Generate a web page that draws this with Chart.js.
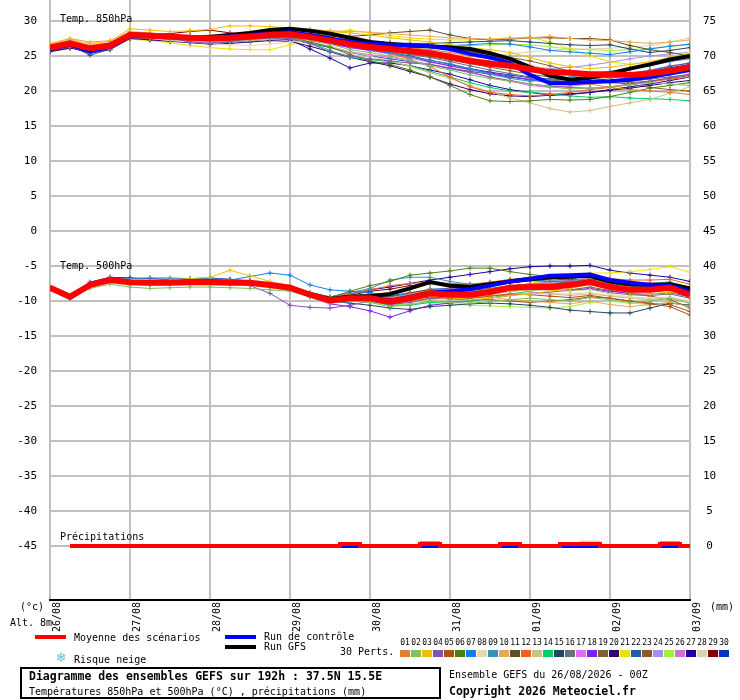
<!DOCTYPE html>
<html>
<head>
<meta charset="utf-8">
<script src="https://cdn.jsdelivr.net/npm/chart.js@4/dist/chart.umd.min.js"></script>
<style>
  html, body { margin: 0; padding: 0; background: #fff; }
  #wrap { width: 740px; height: 700px; }
</style>
</head>
<body>
<div id="wrap"><canvas id="gefs" width="740" height="700"></canvas></div>
<script>
// ------------------------------
// DATA
// ------------------------------
const hours = [0,6,12,18,24,30,36,42,48,54,60,66,72,78,84,90,96,102,108,114,120,126,132,138,144,150,156,162,168,174,180,186,192];
const precipHours = hours.slice(1);
const dayHours = [0,24,48,72,96,120,144,168,192];
const dayLabels = ['26/08','27/08','28/08','29/08','30/08','31/08','01/09','02/09','03/09'];
const leftTicks = [30,25,20,15,10,5,0,-5,-10,-15,-20,-25,-30,-35,-40,-45];
const rightTicks = [75,70,65,60,55,50,45,40,35,30,25,20,15,10,5,0];

const mean850 = [26.2,26.8,26.1,26.5,28.0,27.9,27.8,27.6,27.5,27.6,27.8,28.0,28.1,27.7,27.2,26.7,26.3,26.0,25.7,25.4,24.9,24.3,23.9,23.6,23.1,22.7,22.6,22.4,22.4,22.3,22.5,22.9,23.4];
const ctrl850 = [26.0,26.6,25.7,26.3,27.8,27.9,27.8,27.6,27.6,27.8,28.0,28.2,28.4,28.0,27.5,27.0,26.8,26.6,26.5,26.4,26.0,25.3,24.8,24.0,22.3,21.1,21.1,21.3,21.4,21.6,22.0,22.5,23.0];
const gfs850 = [26.1,26.7,26.0,26.4,28.1,28.0,27.8,27.6,27.7,28.0,28.3,28.7,28.9,28.6,28.2,27.6,27.0,26.7,26.5,26.4,26.2,26.0,25.4,24.6,23.4,22.2,21.6,21.9,22.5,23.2,23.8,24.5,25.0];

const mean500 = [-8.1,-9.4,-7.7,-7.0,-7.3,-7.4,-7.4,-7.3,-7.3,-7.4,-7.4,-7.7,-8.1,-9.1,-9.9,-9.6,-9.6,-10.1,-9.6,-8.9,-9.1,-9.1,-8.7,-8.1,-8.0,-8.0,-7.7,-7.3,-8.0,-8.4,-8.4,-8.1,-9.1];
const ctrl500 = [-8.1,-9.5,-7.7,-7.0,-7.3,-7.4,-7.3,-7.2,-7.2,-7.3,-7.4,-7.7,-8.1,-9.1,-9.9,-9.6,-9.5,-9.9,-9.4,-8.8,-8.6,-8.3,-7.8,-7.2,-6.8,-6.4,-6.3,-6.2,-7.0,-7.4,-7.7,-7.8,-8.6];
const gfs500 = [-8.1,-9.5,-7.7,-7.0,-7.3,-7.4,-7.3,-7.2,-7.2,-7.3,-7.4,-7.7,-8.1,-9.0,-9.7,-9.4,-9.3,-9.0,-8.2,-7.3,-7.8,-8.0,-7.6,-7.2,-6.9,-6.6,-6.5,-6.4,-7.2,-7.6,-7.7,-7.6,-8.2];

const precipMean = [0,0,0,0,0,0,0,0,0,0,0,0,0,0,0.3,0,0,0,0.3,0,0,0,0.3,0,0,0.3,0.3,0,0,0,0.3,0];
const precipCtrl = [0,0,0,0,0,0,0,0,0,0,0,0,0,0,0,0,0,0,0,0,0,0,0,0,0,0,0,0,0,0,0,0];
// [member number, hour, mm]
const pertRain = [[4,114,0.6],[10,138,0.5],[13,156,0.4],[13,162,0.7],[16,186,0.6]];

const pertColors = ['#e08030','#80c060','#f0c000','#8850b0','#b05010','#508010','#1080f0','#e8d8b0','#3890c0','#e8a858',
  '#605020','#f06020','#d0c080','#00d060','#204860','#687078','#e070f0','#8020f0','#806030','#300070',
  '#f0e000','#2060a0','#905828','#a090f0','#a0f040','#d070d0','#2000a0','#e0d0b0','#800000','#0038c0'];

const t850Perts = [
  [26.5,27.0,26.4,26.8,28.3,28.1,27.9,27.8,27.6,27.8,28.0,28.3,28.4,28.0,27.6,27.1,26.8,26.5,26.2,25.9,25.5,25.0,24.6,24.0,23.2,22.5,21.8,21.0,20.5,20.2,20.0,19.8,19.5],
  [26.0,26.6,25.9,26.3,28.0,27.8,27.7,27.5,27.4,27.5,27.6,27.9,28.0,27.3,26.7,25.9,25.5,25.0,24.4,23.6,23.0,22.3,21.8,21.4,21.0,20.6,20.3,20.4,20.6,20.9,21.2,21.0,20.8],
  [26.7,27.4,26.8,27.1,28.9,28.7,28.5,28.6,28.8,29.3,29.3,29.2,29.0,28.8,28.5,28.3,28.0,27.6,27.3,27.0,26.6,26.2,25.9,25.5,24.8,24.0,23.5,23.2,23.4,23.8,24.2,24.8,25.3],
  [26.2,26.9,26.0,26.5,28.1,27.9,27.6,27.0,26.8,27.1,27.4,27.6,27.5,26.8,25.6,25.0,24.6,24.3,24.0,23.8,23.2,22.7,22.0,21.5,21.0,20.7,20.5,20.4,20.6,21.0,21.4,21.9,22.4],
  [26.1,26.6,26.2,26.4,27.9,27.8,27.7,27.6,27.5,27.7,27.9,28.0,28.1,27.8,27.5,27.0,26.6,26.2,25.8,25.4,24.8,24.2,23.8,23.4,23.0,22.8,22.5,22.2,22.0,22.1,22.4,22.8,23.2],
  [26.0,26.5,25.8,26.2,27.8,27.6,27.4,27.3,27.2,27.4,27.6,27.8,27.7,27.0,26.3,25.2,24.3,23.8,23.0,22.0,20.8,19.5,18.6,18.5,18.6,18.8,18.7,18.8,19.2,19.8,20.4,20.8,21.2],
  [26.3,26.9,26.2,26.6,28.2,28.0,27.9,27.8,27.7,27.8,28.0,28.2,28.3,27.9,27.5,27.2,27.0,26.8,26.6,26.5,26.5,26.6,26.8,26.7,26.3,25.8,25.6,25.4,25.2,25.6,26.0,26.4,26.7],
  [26.6,27.2,26.6,26.9,28.0,27.5,27.2,27.0,26.8,26.6,26.5,26.7,27.0,27.2,27.3,27.2,27.0,26.6,26.3,26.0,25.5,25.1,24.8,24.3,23.8,23.0,22.4,22.0,21.7,21.5,21.8,22.3,22.8],
  [25.8,26.3,25.5,26.0,27.6,27.5,27.4,27.3,27.2,27.3,27.5,27.7,27.8,27.4,27.0,26.5,26.0,25.5,24.9,24.4,23.9,23.2,22.4,21.8,21.4,21.6,22.0,22.4,22.8,23.2,23.6,24.2,24.6],
  [26.8,27.5,27.0,27.2,28.5,28.3,28.0,27.9,28.0,28.2,28.5,28.8,28.9,28.8,28.6,28.5,28.4,28.2,28.0,27.8,27.6,27.5,27.4,27.5,27.6,27.8,27.5,27.3,27.2,27.0,26.8,27.0,27.3],
  [26.0,26.5,26.0,26.2,27.8,27.8,27.7,27.5,27.4,27.6,27.8,28.0,28.1,28.0,27.8,27.8,28.0,28.3,28.5,28.7,28.0,27.5,27.3,27.4,27.6,27.6,27.5,27.5,27.3,26.5,25.9,25.5,25.0],
  [26.4,27.0,26.3,26.7,28.2,28.0,27.9,27.8,27.7,27.8,28.0,28.2,28.2,27.8,27.3,26.8,26.3,25.5,24.5,23.5,22.0,20.6,19.8,19.5,19.3,19.5,19.8,20.2,20.5,20.9,21.3,21.7,22.0],
  [25.9,26.4,25.7,26.1,27.7,27.6,27.4,27.2,27.0,27.1,27.2,27.4,27.5,27.0,26.4,25.6,25.0,24.3,23.5,22.6,21.8,20.8,19.9,19.0,18.3,17.5,17.0,17.2,17.8,18.3,18.8,19.7,20.6],
  [26.1,26.7,26.0,26.4,28.0,27.8,27.6,27.3,27.0,27.2,27.4,27.6,27.6,26.9,25.8,24.8,24.5,24.2,23.6,22.8,22.0,21.2,20.5,20.0,19.8,19.6,19.3,19.1,19.2,19.0,18.9,18.8,18.6],
  [26.3,26.8,26.2,26.6,28.1,27.9,27.8,27.7,27.6,27.7,27.9,28.1,28.2,27.9,27.6,27.3,27.1,26.9,26.8,26.8,26.9,27.0,27.1,27.2,27.0,26.8,26.6,26.5,26.6,26.0,25.5,25.8,26.2],
  [26.2,26.8,26.1,26.5,28.0,27.9,27.8,27.6,27.5,27.6,27.8,28.0,28.0,27.5,27.0,26.5,26.0,25.6,25.2,24.8,24.2,23.6,23.0,22.5,22.0,21.6,21.3,21.2,21.2,21.4,21.7,22.0,22.4],
  [26.3,26.9,26.1,26.5,28.0,27.8,27.5,27.2,27.0,27.2,27.5,27.7,27.6,27.0,26.3,25.6,25.2,24.8,24.3,23.8,23.2,22.6,22.0,21.4,20.8,20.5,20.7,21.0,21.5,22.0,22.5,22.8,23.1],
  [26.4,27.0,26.3,26.7,28.1,27.9,27.7,27.5,27.4,27.6,27.9,28.1,28.0,27.4,26.8,26.2,25.8,25.4,24.9,24.2,23.6,23.1,22.6,22.1,21.6,21.2,21.0,21.1,21.4,21.9,22.4,22.9,23.5],
  [26.5,27.1,26.5,26.8,28.2,28.0,27.9,27.8,27.8,27.9,28.1,28.3,28.4,28.2,27.9,27.5,27.1,26.8,26.5,26.2,25.9,25.6,25.2,24.8,24.3,23.6,22.8,22.0,21.5,21.2,21.4,21.8,22.2],
  [25.7,26.2,25.4,25.9,27.5,27.3,27.1,26.9,26.7,26.8,27.0,27.2,27.1,26.4,25.6,24.8,24.2,23.6,22.8,22.0,21.0,20.2,19.6,19.3,19.2,19.4,19.6,19.8,20.1,20.4,20.8,21.2,21.5],
  [25.9,26.4,25.6,26.0,27.4,27.2,26.9,26.5,26.2,26.0,25.9,25.9,26.6,27.5,28.3,28.7,28.3,27.9,27.6,27.4,27.3,27.3,27.4,27.6,27.7,27.0,26.0,25.0,24.2,23.8,24.0,24.6,25.5],
  [26.0,26.6,25.1,26.0,27.6,27.4,27.2,27.0,26.9,27.0,27.2,27.4,27.4,26.8,26.2,25.5,25.0,24.6,24.2,23.8,23.3,22.8,22.4,22.0,21.6,21.4,21.3,21.5,21.8,22.3,22.9,23.5,24.0],
  [26.2,26.7,26.1,26.4,27.9,27.8,27.6,27.4,27.3,27.5,27.7,27.9,28.0,27.6,27.1,26.6,26.2,25.8,25.3,24.9,24.4,23.9,23.4,22.9,22.4,22.0,21.6,21.3,21.2,21.0,20.5,20.2,20.0],
  [26.6,27.3,26.5,26.9,28.3,28.1,27.9,27.7,27.6,27.8,28.0,28.2,28.1,27.6,27.0,26.6,26.3,26.0,25.6,25.3,25.0,24.7,24.3,23.9,23.5,23.2,23.4,23.7,24.1,24.6,25.0,25.3,25.5],
  [26.3,26.9,26.2,26.6,28.2,28.0,27.8,27.7,27.6,27.7,27.9,28.1,28.2,27.8,27.3,26.9,26.6,26.4,26.3,26.3,26.4,26.5,26.6,26.7,26.6,26.3,26.0,25.9,25.8,25.9,26.1,26.4,26.6],
  [26.1,26.6,26.0,26.3,27.8,27.6,27.5,27.3,27.2,27.3,27.5,27.7,27.7,27.2,26.7,26.2,25.8,25.3,24.7,24.1,23.6,23.0,22.5,22.0,21.7,21.5,21.6,21.8,22.1,22.5,23.0,23.6,24.0],
  [26.0,26.5,25.9,26.2,27.7,27.6,27.4,27.2,27.1,27.2,27.4,27.6,27.3,26.0,24.7,23.3,24.0,24.0,23.6,23.0,22.4,21.6,20.8,20.2,19.8,19.4,19.5,19.8,20.2,20.6,21.0,21.5,22.0],
  [26.4,27.0,26.4,26.7,27.8,27.4,27.2,27.0,26.9,27.0,27.2,27.3,27.4,27.2,26.8,26.4,26.1,25.8,25.5,25.2,25.0,24.9,25.0,25.3,25.6,25.8,26.0,26.0,26.1,26.3,26.5,27.0,27.6],
  [25.6,26.1,25.9,26.0,27.9,28.0,28.2,28.5,28.7,28.3,28.0,27.8,27.9,27.6,27.2,26.8,26.4,26.0,25.7,25.3,24.9,24.5,24.1,23.7,23.2,22.8,22.5,22.3,22.2,22.0,21.8,22.4,23.0],
  [26.1,26.7,26.0,26.4,28.0,27.8,27.7,27.5,27.4,27.5,27.7,27.9,28.0,27.5,26.9,26.3,25.9,25.5,25.0,24.4,23.8,23.2,22.7,22.3,21.9,21.7,21.6,21.8,22.0,22.4,22.8,23.3,23.8]
];

const t500Perts = [
  [-8.1,-9.5,-7.8,-7.0,-7.2,-7.3,-7.2,-7.1,-7.2,-7.3,-7.5,-7.8,-8.2,-9.0,-9.8,-9.5,-9.2,-9.6,-9.0,-8.5,-8.6,-8.7,-8.3,-7.9,-7.6,-7.5,-7.4,-7.0,-7.6,-8.0,-8.2,-8.0,-9.5],
  [-8.3,-9.6,-8.2,-7.6,-8.0,-8.2,-8.1,-8.0,-8.0,-8.1,-8.2,-8.4,-8.6,-9.4,-10.3,-10.0,-10.2,-10.8,-10.5,-10.0,-10.2,-10.3,-10.1,-9.8,-9.6,-9.8,-10.0,-9.5,-9.8,-10.2,-10.0,-9.6,-10.3],
  [-8.0,-9.4,-7.6,-6.8,-7.1,-7.2,-7.0,-6.8,-6.6,-5.6,-6.4,-7.2,-7.8,-8.8,-9.6,-9.4,-9.8,-10.2,-9.6,-9.2,-9.5,-9.8,-9.6,-9.2,-9.0,-8.6,-8.2,-7.6,-8.2,-8.8,-9.0,-8.7,-9.2],
  [-8.2,-9.5,-7.8,-7.1,-7.4,-7.5,-7.4,-7.3,-7.2,-7.4,-7.8,-8.9,-10.6,-10.9,-11.0,-10.6,-10.0,-10.5,-10.2,-9.6,-9.4,-9.2,-8.8,-8.3,-8.1,-8.0,-7.8,-7.3,-8.0,-8.5,-8.6,-8.3,-9.0],
  [-8.1,-9.4,-7.7,-7.0,-7.3,-7.4,-7.4,-7.3,-7.3,-7.4,-7.4,-7.7,-8.1,-9.2,-10.0,-9.7,-9.6,-10.0,-9.8,-9.4,-9.6,-9.6,-9.3,-9.0,-9.1,-9.3,-9.5,-9.2,-9.6,-10.0,-10.4,-10.8,-12.0],
  [-8.3,-9.6,-7.9,-7.2,-7.5,-7.6,-7.5,-7.4,-7.4,-7.5,-7.6,-7.9,-8.3,-9.0,-9.5,-8.6,-7.8,-7.2,-6.3,-6.0,-5.7,-5.3,-5.3,-5.8,-6.2,-6.5,-6.7,-6.5,-7.0,-7.4,-7.6,-7.5,-8.0],
  [-8.0,-9.4,-7.6,-6.9,-7.1,-7.2,-7.1,-7.0,-7.0,-7.0,-6.5,-6.0,-6.3,-7.7,-8.4,-8.6,-8.8,-9.2,-9.0,-8.6,-8.8,-8.4,-7.9,-7.4,-7.1,-7.2,-7.4,-7.0,-7.6,-8.0,-8.3,-8.4,-9.5],
  [-8.4,-9.7,-8.1,-7.4,-7.7,-7.8,-7.7,-7.6,-7.6,-7.7,-7.8,-8.1,-8.5,-9.3,-10.0,-9.8,-9.7,-10.0,-9.6,-9.1,-9.3,-9.4,-9.0,-8.6,-8.4,-8.5,-8.6,-8.4,-9.0,-9.4,-9.6,-9.4,-10.0],
  [-8.0,-9.3,-7.5,-6.7,-6.8,-6.7,-6.7,-6.8,-6.8,-6.9,-7.1,-7.5,-8.0,-8.8,-9.4,-8.8,-8.2,-7.0,-6.6,-6.6,-7.2,-7.6,-7.4,-7.2,-7.0,-7.2,-7.3,-7.0,-7.4,-7.8,-8.1,-8.5,-9.0],
  [-8.2,-9.5,-7.7,-7.0,-7.4,-7.5,-7.4,-7.3,-7.2,-7.3,-7.5,-7.8,-8.2,-9.2,-10.0,-9.8,-9.9,-10.4,-10.0,-9.4,-9.5,-9.6,-9.4,-9.8,-10.0,-10.2,-10.4,-10.0,-10.5,-10.8,-10.5,-10.2,-10.8],
  [-8.3,-9.5,-7.9,-7.2,-7.5,-7.6,-7.5,-7.5,-7.4,-7.5,-7.6,-7.9,-8.2,-9.0,-9.6,-9.3,-9.0,-9.3,-8.8,-8.4,-8.5,-8.5,-8.2,-7.8,-7.6,-7.6,-7.5,-7.2,-7.8,-8.2,-8.3,-8.2,-8.9],
  [-8.1,-9.4,-7.7,-7.0,-7.3,-7.4,-7.3,-7.2,-7.2,-7.3,-7.4,-7.7,-8.0,-8.8,-9.4,-9.0,-8.4,-7.8,-7.5,-7.3,-7.5,-7.6,-7.3,-6.9,-6.6,-6.5,-6.4,-6.3,-6.8,-7.0,-7.0,-6.9,-7.6],
  [-8.4,-9.7,-8.0,-7.3,-7.6,-7.7,-7.6,-7.5,-7.5,-7.6,-7.7,-8.0,-8.4,-9.2,-9.8,-9.6,-9.8,-10.4,-10.2,-9.8,-9.6,-9.4,-9.2,-9.0,-8.9,-9.0,-9.2,-9.0,-9.3,-9.6,-9.8,-9.6,-10.2],
  [-8.2,-9.6,-7.9,-7.2,-7.5,-7.6,-7.5,-7.4,-7.4,-7.5,-7.7,-8.0,-8.4,-9.3,-10.1,-9.9,-10.0,-10.6,-10.6,-10.2,-10.1,-10.0,-9.6,-9.0,-8.6,-8.2,-7.8,-7.4,-7.6,-7.8,-7.5,-7.3,-8.0],
  [-8.3,-9.6,-7.9,-7.2,-7.5,-7.6,-7.5,-7.4,-7.4,-7.5,-7.6,-7.9,-8.3,-9.3,-10.0,-10.3,-10.6,-11.0,-11.2,-10.8,-10.6,-10.4,-10.3,-10.4,-10.6,-10.9,-11.3,-11.5,-11.7,-11.7,-11.0,-10.3,-10.6],
  [-8.1,-9.5,-7.8,-7.1,-7.3,-7.4,-7.3,-7.3,-7.3,-7.4,-7.5,-7.8,-8.1,-9.1,-9.9,-9.6,-9.5,-9.9,-9.6,-9.0,-9.2,-9.3,-9.0,-8.6,-8.4,-8.4,-8.5,-8.3,-8.8,-9.1,-9.2,-9.0,-9.6],
  [-8.0,-9.4,-7.6,-6.9,-7.2,-7.3,-7.2,-7.1,-7.1,-7.2,-7.4,-7.6,-7.9,-8.9,-9.7,-9.4,-9.2,-9.6,-9.0,-8.4,-8.3,-8.2,-7.8,-7.3,-7.0,-6.8,-6.6,-6.2,-6.8,-7.2,-7.4,-7.3,-8.3],
  [-8.2,-9.6,-7.8,-7.1,-7.4,-7.5,-7.4,-7.3,-7.3,-7.4,-7.6,-7.9,-8.3,-9.4,-10.4,-10.8,-11.4,-12.3,-11.4,-10.6,-10.3,-10.0,-9.6,-9.2,-8.9,-8.7,-8.5,-8.2,-8.6,-8.9,-9.0,-8.8,-9.4],
  [-8.2,-9.5,-7.8,-7.1,-7.4,-7.5,-7.4,-7.3,-7.3,-7.4,-7.5,-7.8,-8.2,-9.1,-9.9,-9.7,-9.6,-10.1,-9.7,-9.2,-9.3,-9.4,-9.0,-8.6,-8.3,-8.3,-8.4,-8.0,-8.5,-8.9,-9.3,-9.8,-11.0],
  [-8.3,-9.6,-7.9,-7.2,-7.5,-7.6,-7.5,-7.4,-7.4,-7.5,-7.6,-7.9,-8.3,-9.2,-10.0,-9.8,-9.5,-9.8,-9.2,-8.6,-8.4,-8.2,-7.7,-7.2,-6.9,-6.8,-6.8,-6.5,-7.0,-7.4,-7.6,-7.5,-8.2],
  [-8.0,-9.4,-7.7,-7.0,-7.3,-7.4,-7.3,-7.2,-7.2,-7.3,-7.4,-7.7,-8.1,-9.0,-9.8,-9.6,-9.7,-10.2,-9.9,-9.4,-9.2,-9.0,-8.5,-8.0,-7.5,-7.0,-6.6,-6.0,-6.0,-5.8,-5.5,-5.1,-5.9],
  [-8.1,-9.5,-7.7,-7.0,-7.3,-7.4,-7.3,-7.2,-7.2,-7.3,-7.4,-7.7,-8.1,-9.0,-9.7,-9.3,-9.0,-9.4,-8.9,-8.3,-8.2,-8.0,-7.6,-7.2,-7.0,-7.1,-7.2,-7.0,-7.5,-7.9,-8.1,-8.0,-8.6],
  [-8.2,-9.5,-7.8,-7.1,-7.4,-7.5,-7.4,-7.3,-7.3,-7.4,-7.5,-7.8,-8.2,-9.0,-9.6,-9.4,-9.6,-10.2,-10.0,-9.6,-9.7,-9.8,-9.8,-10.0,-10.2,-10.0,-9.8,-9.4,-9.6,-10.0,-10.3,-10.5,-11.5],
  [-8.0,-9.4,-7.6,-6.9,-7.2,-7.3,-7.2,-7.1,-7.1,-7.2,-7.3,-7.6,-8.0,-8.9,-9.7,-9.5,-9.6,-10.0,-9.7,-9.3,-9.2,-9.0,-8.6,-8.1,-7.8,-7.6,-7.4,-7.0,-7.5,-7.9,-8.0,-7.8,-8.5],
  [-8.3,-9.6,-7.9,-7.2,-7.5,-7.6,-7.5,-7.4,-7.4,-7.5,-7.7,-8.0,-8.4,-9.3,-10.1,-10.0,-10.2,-10.6,-10.4,-10.2,-10.4,-10.6,-10.7,-10.8,-10.9,-11.0,-10.8,-10.2,-10.0,-10.3,-10.5,-10.2,-10.6],
  [-8.1,-9.5,-7.8,-7.1,-7.4,-7.5,-7.4,-7.3,-7.3,-7.4,-7.5,-7.8,-8.2,-9.2,-9.9,-9.8,-9.9,-10.3,-9.9,-9.3,-9.1,-8.9,-8.4,-7.9,-7.5,-7.3,-7.1,-6.7,-7.2,-7.6,-7.8,-7.7,-8.4],
  [-8.2,-9.5,-7.3,-6.6,-6.7,-6.8,-6.9,-6.8,-6.7,-6.9,-7.2,-7.6,-8.0,-9.0,-9.6,-9.0,-8.4,-8.0,-7.5,-7.0,-6.6,-6.2,-5.8,-5.4,-5.1,-5.0,-5.0,-4.9,-5.6,-6.0,-6.3,-6.6,-7.2],
  [-8.3,-9.6,-8.0,-7.3,-7.6,-7.7,-7.6,-7.5,-7.5,-7.6,-7.7,-8.0,-8.4,-9.3,-10.0,-9.8,-9.7,-10.1,-9.8,-9.3,-9.4,-9.5,-9.3,-9.0,-8.9,-8.9,-9.0,-8.8,-9.2,-9.5,-9.7,-9.5,-10.0],
  [-8.1,-9.4,-7.7,-7.0,-7.3,-7.4,-7.3,-7.2,-7.2,-7.3,-7.4,-7.7,-8.1,-9.0,-9.7,-9.2,-8.6,-8.3,-7.8,-7.5,-7.6,-7.7,-7.4,-7.0,-6.8,-6.9,-7.0,-6.8,-7.3,-7.7,-7.9,-7.8,-8.4],
  [-8.2,-9.5,-7.8,-7.1,-7.4,-7.5,-7.4,-7.3,-7.3,-7.4,-7.5,-7.8,-8.2,-9.1,-9.8,-9.5,-9.4,-9.8,-9.3,-8.7,-8.8,-8.8,-8.4,-7.9,-7.6,-7.5,-7.4,-7.0,-7.6,-8.0,-8.2,-8.1,-8.9]
];

// ------------------------------
// CHART BUILDING
// ------------------------------
const MONO = '"DejaVu Sans Mono", "Liberation Mono", monospace';
const toPts = (xs, ys) => ys.map((v, i) => ({ x: xs[i], y: v }));

const datasets = [];
// first dataset is drawn on top
datasets.push({ label: 'Moyenne 850', data: toPts(hours, mean850), borderColor: '#ff0000', borderWidth: 6, pointRadius: 0, yAxisID: 'y' });
datasets.push({ label: 'Moyenne 500', data: toPts(hours, mean500), borderColor: '#ff0000', borderWidth: 6, pointRadius: 0, yAxisID: 'y' });
datasets.push({ label: 'Moyenne précip', data: toPts(precipHours, precipMean), borderColor: '#ff0000', borderWidth: 4, pointRadius: 0, stepped: 'middle', yAxisID: 'yR' });
datasets.push({ label: 'Contrôle 850', data: toPts(hours, ctrl850), borderColor: '#0000ff', borderWidth: 4, pointRadius: 0, yAxisID: 'y' });
datasets.push({ label: 'Contrôle 500', data: toPts(hours, ctrl500), borderColor: '#0000ff', borderWidth: 4, pointRadius: 0, yAxisID: 'y' });
datasets.push({ label: 'Contrôle précip', data: toPts(precipHours, precipCtrl), borderColor: '#0000ff', borderWidth: 4, pointRadius: 0, stepped: 'middle', yAxisID: 'yR' });
datasets.push({ label: 'GFS 850', data: toPts(hours, gfs850), borderColor: '#000000', borderWidth: 4, pointRadius: 0, yAxisID: 'y' });
datasets.push({ label: 'GFS 500', data: toPts(hours, gfs500), borderColor: '#000000', borderWidth: 4, pointRadius: 0, yAxisID: 'y' });

const pertStyle = (c) => ({
  borderColor: c, borderWidth: 1, pointStyle: 'cross', pointRadius: 2.5,
  pointBorderColor: c, pointBorderWidth: 1, yAxisID: 'y'
});
t850Perts.forEach((vals, i) => {
  datasets.push(Object.assign({ label: 'P' + (i + 1) + ' 850', data: toPts(hours, vals) }, pertStyle(pertColors[i])));
});
t500Perts.forEach((vals, i) => {
  datasets.push(Object.assign({ label: 'P' + (i + 1) + ' 500', data: toPts(hours, vals) }, pertStyle(pertColors[i])));
});
// rain of the perturbations (only the few members that had some)
const rainyMembers = [...new Set(pertRain.map(r => r[0]))];
rainyMembers.forEach(m => {
  const vals = precipHours.map(h => {
    const hit = pertRain.find(r => r[0] === m && r[1] === h);
    return hit ? hit[2] : 0;
  });
  datasets.push({ label: 'P' + m + ' précip', data: toPts(precipHours, vals), borderColor: pertColors[m - 1],
    borderWidth: 1, pointRadius: 0, stepped: 'middle', yAxisID: 'yR' });
});

const Y_MIN = -52.7, Y_MAX = 33.0;

// no extra padding around the plot: it must fill 50..690 x 0..600
const noPad = (s) => { s.paddingTop = 0; s.paddingBottom = 0; s.paddingLeft = 0; s.paddingRight = 0; };

const extras = {
  id: 'extras',
  afterDraw(chart) {
    const c = chart.ctx;
    const xs = chart.scales.x;
    c.save();
    c.fillStyle = '#000';
    c.textBaseline = 'middle';

    // panel titles inside the plot
    c.font = '10px ' + MONO;
    c.textAlign = 'left';
    c.fillText('Temp. 850hPa', 60, 19);
    c.fillText('Temp. 500hPa', 60, 266);
    c.fillText('Précipitations', 60, 537);

    // date labels under the plot, written upwards
    dayHours.forEach((h, i) => {
      c.save();
      c.translate(xs.getPixelForValue(h) + 7, 602);
      c.rotate(-Math.PI / 2);
      c.textAlign = 'right';
      c.fillText(dayLabels[i], 0, 0);
      c.restore();
    });

    c.textAlign = 'left';
    c.fillText('(°c)', 20, 607);
    c.fillText('Alt. 8m', 10, 623);
    c.fillText('(mm)', 710, 607);

    // legend
    c.fillStyle = '#ff0000'; c.fillRect(35, 635, 31, 4);
    c.fillStyle = '#0000ff'; c.fillRect(225, 635, 31, 4);
    c.fillStyle = '#000000'; c.fillRect(225, 645, 31, 4);
    c.fillStyle = '#000';
    c.fillText('Moyenne des scénarios', 74, 638);
    c.fillText('Run de contrôle', 264, 637);
    c.fillText('Run GFS', 264, 647);
    c.fillText('Risque neige', 74, 660);
    c.fillText('30 Perts.', 340, 652);
    c.fillStyle = '#6ab8e8';
    c.font = '13px "DejaVu Sans"';
    c.textAlign = 'center';
    c.fillText('\u2744', 61, 659);

    // member colour keys
    c.font = '8px ' + MONO;
    pertColors.forEach((col, i) => {
      const x0 = 400 + i * 11;
      c.fillStyle = '#000';
      c.fillText(String(i + 1).padStart(2, '0'), x0 + 5, 643);
      c.fillStyle = col;
      c.fillRect(x0, 650, 10, 7);
    });

    // caption box
    c.strokeStyle = '#000';
    c.lineWidth = 2;
    c.strokeRect(21, 668, 419, 30);
    c.fillStyle = '#000';
    c.textAlign = 'left';
    c.font = 'bold 11.5px ' + MONO;
    c.fillText('Diagramme des ensembles GEFS sur 192h : 37.5N 15.5E', 29, 677);
    c.font = '10px ' + MONO;
    c.fillText('Températures 850hPa et 500hPa (°C) , précipitations (mm)', 29, 692);
    c.fillText('Ensemble GEFS du 26/08/2026 - 00Z', 449, 675);
    c.font = 'bold 11.5px ' + MONO;
    c.fillText('Copyright 2026 Meteociel.fr', 449, 692);
    c.restore();
  }
};

const ctx = document.getElementById('gefs').getContext('2d');
new Chart(ctx, {
  type: 'line',
  data: { datasets: datasets },
  options: {
    responsive: false,
    animation: false,
    devicePixelRatio: 1,
    layout: { padding: 0, autoPadding: false },
    elements: { line: { tension: 0 } },
    plugins: { legend: { display: false }, tooltip: { enabled: false } },
    scales: {
      x: {
        type: 'linear', min: 0, max: 192,
        afterBuildTicks: s => { s.ticks = dayHours.map(v => ({ value: v })); },
        afterFit: s => { s.height = 100; noPad(s); },
        ticks: { display: false },
        grid: { color: '#c0c0c0', lineWidth: 2, drawTicks: false },
        border: { display: true, color: '#000', width: 2 }
      },
      y: {
        position: 'left', min: Y_MIN, max: Y_MAX,
        afterBuildTicks: s => { s.ticks = leftTicks.map(v => ({ value: v })); },
        afterFit: s => { s.width = 50; noPad(s); },
        ticks: { color: '#000', padding: 13, font: { family: MONO, size: 11 } },
        grid: { color: '#c0c0c0', lineWidth: 2, drawTicks: false },
        border: { display: false }
      },
      yR: {
        position: 'right', min: Y_MIN + 45, max: Y_MAX + 45,
        afterBuildTicks: s => { s.ticks = rightTicks.map(v => ({ value: v })); },
        afterFit: s => { s.width = 50; noPad(s); },
        ticks: { color: '#000', padding: 13, crossAlign: 'center', font: { family: MONO, size: 11 } },
        grid: { display: false, drawTicks: false },
        border: { display: false }
      }
    }
  },
  plugins: [extras]
});
</script>
</body>
</html>
